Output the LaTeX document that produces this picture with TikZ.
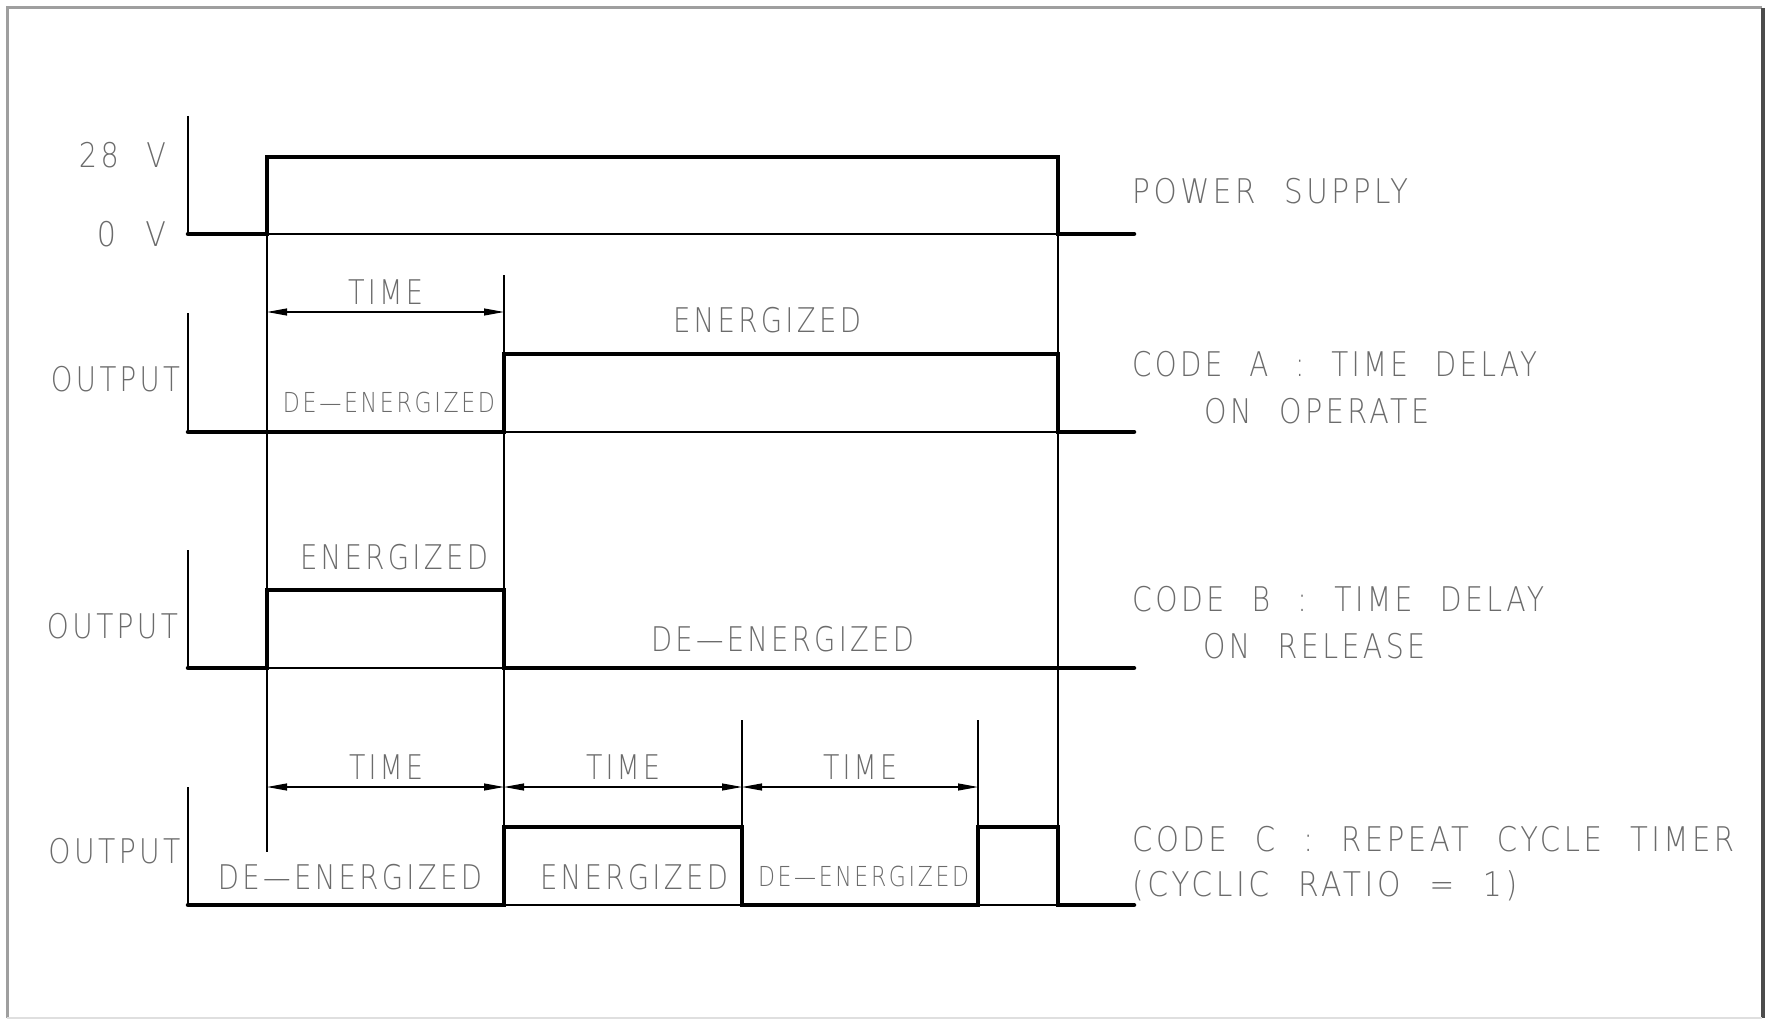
\documentclass[tikz,border=0pt]{standalone}
\usepackage{fontspec}
\usepackage{graphicx}
\usetikzlibrary{arrows.meta}
\newfontfamily\cad[LetterSpace=12,WordSpace=2.2]{DejaVuSans-ExtraLight.ttf}
\newcommand\cadtxt[2]{\resizebox{#1pt}{\height}{\cad #2}}
\definecolor{txtgray}{gray}{0.42}
\tikzset{
  sig/.style={line width=4.5pt,line cap=round,line join=miter},
  thin/.style={line width=1.3pt},
  dim/.style={line width=1.1pt,{Triangle[length=20pt,width=7pt]}-{Triangle[length=20pt,width=7pt]}},
  lbl/.style={inner sep=0pt,text=txtgray,font=\fontsize{34}{36}\selectfont},
  slbl/.style={inner sep=0pt,text=txtgray,font=\fontsize{27.5}{30}\selectfont},
}
\begin{document}
\begin{tikzpicture}[x=1pt,y={(0pt,-1pt)}]
\useasboundingbox (0,0) rectangle (1770,1019);
% frame
\draw[line width=3pt,color=gray!75] (7,1018) -- (7,8) -- (1762,8);
\draw[line width=3.5pt,color=black!70] (1763,8) -- (1763,1018);
\draw[line width=1.5pt,color=gray!25] (7,1018) -- (1762,1018);
% ---- Row 1 : power supply
\draw[thin] (188,116) -- (188,234);
\draw[thin] (267,234) -- (1058,234);
\draw[thin] (267,234) -- (267,852);
\draw[thin] (1058,234) -- (1058,905);
\draw[sig] (188,234) -- (267,234) -- (267,157) -- (1058,157) -- (1058,234) -- (1134,234);
% ---- Row 2 : code A
\draw[thin] (188,313) -- (188,432);
\draw[thin] (504,432) -- (1058,432);
\draw[thin] (504,275) -- (504,905);
\draw[sig] (188,432) -- (504,432) -- (504,354) -- (1058,354) -- (1058,432) -- (1134,432);
\coordinate (t1l) at (267,312); \coordinate (t1r) at (504,312);
\draw[dim] (t1l) -- (t1r);
% ---- Row 3 : code B
\draw[thin] (188,550) -- (188,668);
\draw[thin] (267,668) -- (504,668);
\draw[sig] (188,668) -- (267,668) -- (267,590) -- (504,590) -- (504,668) -- (1134,668);
% ---- Row 4 : code C
\draw[thin] (188,787) -- (188,905);
\draw[thin] (504,905) -- (742,905);
\draw[thin] (978,905) -- (1058,905);
\draw[thin] (742,720) -- (742,905);
\draw[thin] (978,720) -- (978,827);
\draw[sig] (188,905) -- (504,905) -- (504,827) -- (742,827) -- (742,905) -- (978,905) -- (978,827) -- (1058,827) -- (1058,905) -- (1134,905);
\coordinate (c1) at (267,787); \coordinate (c2) at (504,787);
\coordinate (c3) at (742,787); \coordinate (c4) at (978,787);
\draw[dim] (c1) -- (c2);
\draw[dim] (c2) -- (c3);
\draw[dim] (c3) -- (c4);
% ---- left labels
\node[lbl] (v28) at (122.5,155) {\cadtxt{87}{28 V}};
\node[lbl] (v0) at (131.5,234) {\cadtxt{69}{0 V}};
\node[lbl] (outA) at (115.5,379) {\cadtxt{129}{OUTPUT}};
\node[lbl] (outB) at (112.5,626) {\cadtxt{131}{OUTPUT}};
\node[lbl] (outC) at (114.5,851) {\cadtxt{132}{OUTPUT}};
% ---- in-diagram labels
\node[lbl] (timeA) at (385.5,292) {\cadtxt{75}{TIME}};
\node[lbl] (enA) at (767,320) {\cadtxt{188}{ENERGIZED}};
\node[slbl] (deA) at (389,402) {\cadtxt{212}{DE—ENERGIZED}};
\node[lbl] (enB) at (394,557) {\cadtxt{188}{ENERGIZED}};
\node[lbl] (deB) at (782.5,639) {\cadtxt{263}{DE—ENERGIZED}};
\node[lbl] (timeC1) at (386,767) {\cadtxt{74}{TIME}};
\node[lbl] (timeC2) at (623,767) {\cadtxt{74}{TIME}};
\node[lbl] (timeC3) at (860,767) {\cadtxt{74}{TIME}};
\node[lbl] (deC1) at (350,877) {\cadtxt{264}{DE—ENERGIZED}};
\node[lbl] (enC) at (634,877) {\cadtxt{188}{ENERGIZED}};
\node[slbl] (deC2) at (863.5,876) {\cadtxt{211}{DE—ENERGIZED}};
% ---- right labels
\node[lbl,anchor=west] (ps) at (1132,191) {\cadtxt{276}{POWER SUPPLY}};
\node[lbl,anchor=west] (codeA) at (1132,364) {\cadtxt{405}{CODE A : TIME DELAY}};
\node[lbl,anchor=west] (codeA2) at (1204,411) {\cadtxt{225}{ON OPERATE}};
\node[lbl,anchor=west] (codeB) at (1132,599) {\cadtxt{412}{CODE B : TIME DELAY}};
\node[lbl,anchor=west] (codeB2) at (1203,646) {\cadtxt{222}{ON RELEASE}};
\node[lbl,anchor=west] (codeC) at (1132,839) {\cadtxt{602}{CODE C : REPEAT CYCLE TIMER}};
\node[lbl,anchor=west] (codeC2) at (1132,886) {\cadtxt{385}{(CYCLIC RATIO = 1)}};
\end{tikzpicture}
\end{document}
